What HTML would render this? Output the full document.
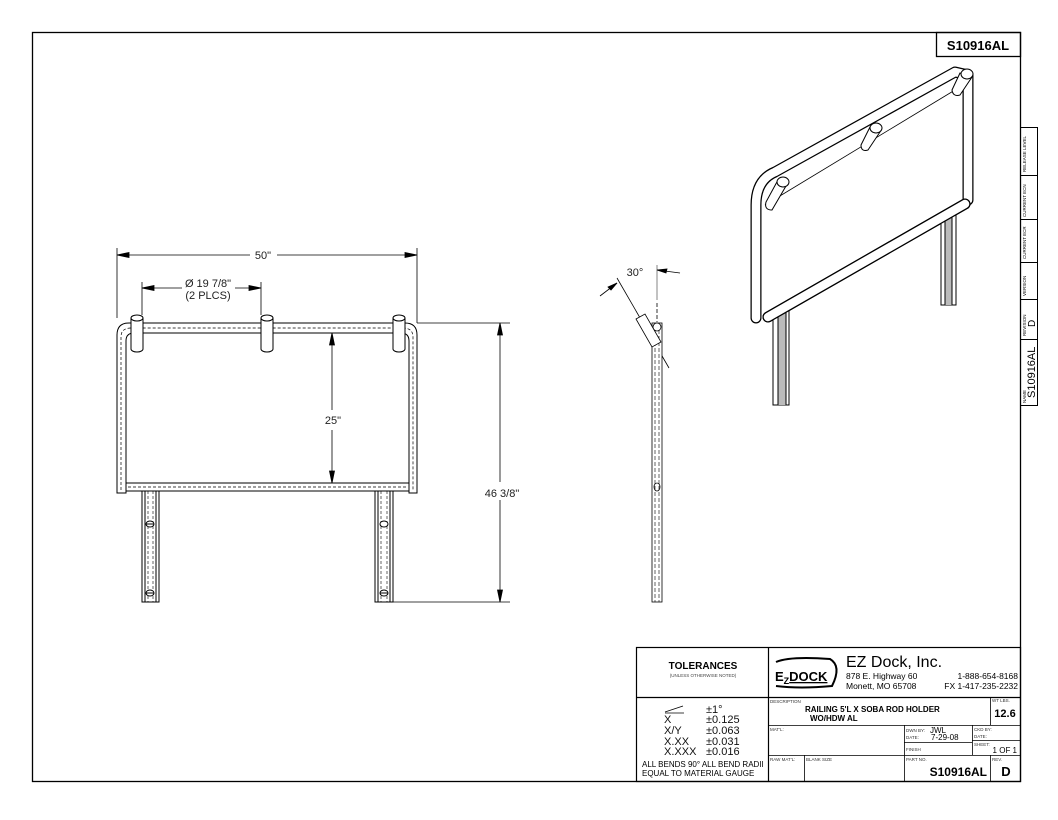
<!DOCTYPE html>
<html><head><meta charset="utf-8"><style>
html,body{margin:0;padding:0;background:#fff;}
svg{display:block;font-family:"Liberation Sans",sans-serif;}
</style></head><body>
<svg width="1058" height="820" viewBox="0 0 1058 820" xmlns="http://www.w3.org/2000/svg">
<rect x="0" y="0" width="1058" height="820" fill="#fff"/>
<rect x="32.5" y="32.5" width="988" height="749" fill="none" stroke="#000" stroke-width="1.3"/>
<!-- top right box -->
<rect x="936.5" y="32.5" width="84" height="24" fill="none" stroke="#000" stroke-width="1.3"/>
<text x="978" y="50" font-size="13" font-weight="bold" text-anchor="middle">S10916AL</text>
<!-- right tab -->
<g stroke="#000" stroke-width="1" fill="none">
<rect x="1020.5" y="127.5" width="17" height="278"/>
<line x1="1020" y1="175.5" x2="1037" y2="175.5"/>
<line x1="1020" y1="219.5" x2="1037" y2="219.5"/>
<line x1="1020" y1="262.5" x2="1037" y2="262.5"/>
<line x1="1020" y1="299.5" x2="1037" y2="299.5"/>
<line x1="1020" y1="339.5" x2="1037" y2="339.5"/>
</g>
<g font-size="4.5" fill="#000">
<text transform="translate(1026,172) rotate(-90)">RELEASE LEVEL</text>
<text transform="translate(1026,217) rotate(-90)">CURRENT ECN</text>
<text transform="translate(1026,259) rotate(-90)">CURRENT ECR</text>
<text transform="translate(1026,296) rotate(-90)">VERSION</text>
<text transform="translate(1026,336) rotate(-90)">REVISION</text>
<text transform="translate(1026,403) rotate(-90)">NAME</text>
</g>
<text transform="translate(1035,327) rotate(-90)" font-size="10">D</text>
<text transform="translate(1035,398) rotate(-90)" font-size="11">S10916AL</text>

<!-- FRONT VIEW -->
<g fill="none" stroke="#000" stroke-width="1">
<!-- outer frame -->
<path d="M117,493 V335 Q117,323 129,323 H405 Q417,323 417,335 V493 H409 V341 Q409,333 401,333 H134 Q126,333 126,341 V493 Z" fill="#fff"/>
<path d="M121,490 V337 Q121,328 131,328 H403 Q413,328 413,337 V490" stroke-dasharray="3,2" stroke-width="0.7"/>
<rect x="126" y="483" width="283" height="8" fill="#fff"/>
<line x1="128" y1="487" x2="407" y2="487" stroke-dasharray="3,2" stroke-width="0.7"/>
<!-- legs -->
<rect x="142" y="491" width="17" height="111" fill="#fff"/>
<line x1="145" y1="491" x2="145" y2="602"/><line x1="156" y1="491" x2="156" y2="602"/>
<line x1="148" y1="491" x2="148" y2="602" stroke-dasharray="3,2" stroke-width="0.6"/>
<line x1="153" y1="491" x2="153" y2="602" stroke-dasharray="3,2" stroke-width="0.6"/>
<ellipse cx="150" cy="524" rx="4" ry="3" fill="#fff"/><line x1="146" y1="524" x2="154" y2="524"/>
<ellipse cx="150" cy="593" rx="4" ry="3" fill="#fff"/><line x1="146" y1="593" x2="154" y2="593"/>
<rect x="375" y="491" width="18" height="111" fill="#fff"/>
<line x1="378" y1="491" x2="378" y2="602"/><line x1="390" y1="491" x2="390" y2="602"/>
<line x1="381" y1="491" x2="381" y2="602" stroke-dasharray="3,2" stroke-width="0.6"/>
<line x1="387" y1="491" x2="387" y2="602" stroke-dasharray="3,2" stroke-width="0.6"/>
<ellipse cx="384" cy="524" rx="4" ry="3" fill="#fff"/>
<ellipse cx="384" cy="593" rx="4" ry="3" fill="#fff"/><line x1="380" y1="593" x2="388" y2="593"/>
<!-- holders -->
<g fill="#fff">
<path d="M131,318 V349 A6,3 0 0 0 143,349 V318"/><ellipse cx="137" cy="318" rx="6" ry="3"/>
<path d="M261,318 V349 A6,3 0 0 0 273,349 V318"/><ellipse cx="267" cy="318" rx="6" ry="3"/>
<path d="M393,318 V349 A6,3 0 0 0 405,349 V318"/><ellipse cx="399" cy="318" rx="6" ry="3"/>
</g>
</g>
<!-- front dims -->
<g stroke="#000" stroke-width="0.8" fill="#000">
<line x1="117" y1="248" x2="117" y2="318"/><line x1="417" y1="248" x2="417" y2="323"/>
<line x1="117" y1="255" x2="250" y2="255"/><line x1="277" y1="255" x2="417" y2="255"/>
<path d="M117,255 l12,-2.5 v5 z"/><path d="M417,255 l-12,-2.5 v5 z"/>
<line x1="142" y1="282" x2="142" y2="315"/><line x1="261" y1="282" x2="261" y2="315"/>
<line x1="142" y1="288" x2="182" y2="288"/><line x1="235" y1="288" x2="261" y2="288"/>
<path d="M142,288 l12,-2.5 v5 z"/><path d="M261,288 l-12,-2.5 v5 z"/>
<line x1="332" y1="333" x2="332" y2="410"/><line x1="332" y1="430" x2="332" y2="483"/>
<path d="M332,333 l-2.5,12 h5 z"/><path d="M332,483 l-2.5,-12 h5 z"/>
<line x1="417" y1="323" x2="510" y2="323"/><line x1="393" y1="602" x2="510" y2="602"/>
<line x1="500" y1="323" x2="500" y2="482"/><line x1="500" y1="500" x2="500" y2="602"/>
<path d="M500,323 l-2.5,12 h5 z"/><path d="M500,602 l-2.5,-12 h5 z"/>
</g>
<g font-size="11" fill="#222" text-anchor="middle">
<text x="263" y="259">50"</text>
<text x="208" y="287">Ø 19 7/8"</text>
<text x="208" y="299">(2 PLCS)</text>
<text x="333" y="424">25"</text>
<text x="502" y="497">46 3/8"</text>
<text x="635" y="276">30°</text>
</g>

<!-- SIDE VIEW -->
<g stroke="#000" stroke-width="0.8" fill="none">
<line x1="657" y1="265" x2="657" y2="300" stroke="#999" stroke-width="1.2"/>
<line x1="657" y1="303" x2="657" y2="322" stroke-dasharray="4,2"/>
<line x1="657" y1="270" x2="680" y2="273"/><path d="M657,270 l10,-1 l-1,4 z" fill="#000"/>
<line x1="617" y1="278" x2="669" y2="368"/>
<line x1="600" y1="296" x2="617" y2="283"/><path d="M617,283 l-9,4 l3,3 z" fill="#000"/>
<rect x="652" y="323" width="10" height="279" fill="#fff"/>
<line x1="655" y1="330" x2="655" y2="602" stroke-dasharray="4,2" stroke-width="0.6"/>
<line x1="659" y1="330" x2="659" y2="602" stroke-dasharray="4,2" stroke-width="0.6"/>
<circle cx="657" cy="327" r="4" fill="#fff"/>
<ellipse cx="657" cy="487" rx="3" ry="4"/>
<path d="M636,319 L645,314 L661,342 L652,347 Z" fill="#fff"/>
</g>

<!-- ISO VIEW -->
<g fill="none" stroke="#000" stroke-width="1">
<path d="M756,318 V205 Q756,180 775,172 L955,72 L968,75 V200" stroke="#000" stroke-width="11" stroke-linecap="round" stroke-linejoin="round"/>
<path d="M756,318 V205 Q756,180 775,172 L955,72 L968,75 V200" stroke="#fff" stroke-width="8.5" stroke-linecap="round" stroke-linejoin="round"/>
<line x1="765" y1="205" x2="955" y2="90" stroke-width="0.8"/>
<path d="M768,317 L965,204" stroke="#000" stroke-width="11" stroke-linecap="round"/>
<path d="M768,317 L965,204" stroke="#fff" stroke-width="8.5" stroke-linecap="round"/>
<!-- legs -->
<rect x="773" y="310" width="16" height="95" fill="#fff"/>
<rect x="778" y="310" width="8" height="95" fill="#bbb" stroke="none"/>
<line x1="778" y1="310" x2="778" y2="405"/><line x1="786" y1="310" x2="786" y2="405"/>
<rect x="941" y="212" width="15" height="93" fill="#fff"/>
<rect x="945" y="212" width="7" height="93" fill="#bbb" stroke="none"/>
<line x1="945" y1="212" x2="945" y2="305"/><line x1="952" y1="212" x2="952" y2="305"/>
<path d="M768,317 L965,204" stroke="#000" stroke-width="11" stroke-linecap="round"/>
<path d="M768,317 L965,204" stroke="#fff" stroke-width="8.5" stroke-linecap="round"/>
<!-- holders -->
<g fill="#fff">
<path d="M778,180 L766,202 Q764,210 772,210 L786,186 Z"/><ellipse cx="783" cy="182" rx="6" ry="5"/>
<path d="M870,127 L861,145 Q861,152 868,150 L880,132 Z"/><ellipse cx="876" cy="128" rx="6" ry="5"/>
<path d="M960,73 L952,90 Q953,97 960,95 L972,77 Z"/><ellipse cx="967" cy="74" rx="6" ry="5"/>
</g>
</g>

<!-- TITLE BLOCK -->
<g stroke="#000" stroke-width="1.2" fill="none">
<rect x="636.5" y="647.5" width="384" height="134"/>
<line x1="768.5" y1="647" x2="768.5" y2="781"/>
<line x1="636" y1="697.5" x2="1020" y2="697.5"/>
<g stroke-width="0.8">
<line x1="768" y1="725.5" x2="1020" y2="725.5"/>
<line x1="990.5" y1="697" x2="990.5" y2="725"/>
<line x1="768" y1="755.5" x2="1020" y2="755.5"/>
<line x1="904.5" y1="725" x2="904.5" y2="781"/>
<line x1="972.5" y1="725" x2="972.5" y2="755"/>
<line x1="904" y1="742.5" x2="972" y2="742.5"/>
<line x1="972" y1="740.5" x2="1020" y2="740.5"/>
<line x1="804.5" y1="755" x2="804.5" y2="781"/>
<line x1="990.5" y1="755" x2="990.5" y2="781"/>
</g>
</g>
<text x="703" y="669" font-size="10" font-weight="bold" text-anchor="middle">TOLERANCES</text>
<text x="703" y="677" font-size="4.5" text-anchor="middle" fill="#444">(UNLESS OTHERWISE NOTED)</text>
<path d="M665,712 L683,706 M665,713 L684,713" stroke="#000" stroke-width="0.8"/>
<g font-size="11" fill="#111">
<text x="706" y="713">±1°</text>
<text x="664" y="723">X</text><text x="706" y="723">±0.125</text>
<text x="664" y="734">X/Y</text><text x="706" y="734">±0.063</text>
<text x="664" y="745">X.XX</text><text x="706" y="745">±0.031</text>
<text x="664" y="755">X.XXX</text><text x="706" y="755">±0.016</text>
</g>
<text x="642" y="767" font-size="8">ALL BENDS 90°   ALL BEND RADII</text>
<text x="642" y="776" font-size="8">EQUAL TO MATERIAL GAUGE</text>
<!-- logo -->
<path d="M776,662 Q790,656 830,659 Q842,666 832,686 Q800,689 776,686" fill="none" stroke="#000" stroke-width="2"/>
<text x="775" y="681" font-size="13" font-weight="bold">E<tspan font-size="9" dy="3">Z</tspan><tspan dy="-3" text-decoration="underline">DOCK</tspan></text>
<text x="846" y="667" font-size="16">EZ Dock, Inc.</text>
<text x="846" y="679" font-size="8.5">878 E. Highway 60</text>
<text x="846" y="689" font-size="8.5">Monett, MO 65708</text>
<text x="1018" y="679" font-size="8.5" text-anchor="end">1-888-654-8168</text>
<text x="1018" y="689" font-size="8.5" text-anchor="end">FX  1-417-235-2232</text>
<g font-size="4.5" fill="#333">
<text x="770" y="703">DESCRIPTION</text>
<text x="992" y="702">WT   LBS.</text>
<text x="770" y="731">MAT'L:</text>
<text x="906" y="732">DWN BY:</text><text x="906" y="739">DATE:</text>
<text x="974" y="731">CKD BY:</text><text x="974" y="738">DATE:</text>
<text x="906" y="751">FINISH</text>
<text x="974" y="746">SHEET:</text>
<text x="770" y="761">RAW MAT'L:</text><text x="806" y="761">BLANK SIZE</text>
<text x="906" y="761">PART NO.</text><text x="992" y="761">REV.</text>
</g>
<text x="805" y="712" font-size="8" font-weight="bold">RAILING  5'L X SOBA ROD HOLDER</text>
<text x="810" y="721" font-size="8" font-weight="bold">WO/HDW AL</text>
<text x="1005" y="717" font-size="11" font-weight="bold" text-anchor="middle">12.6</text>
<text x="930" y="733" font-size="8">JWL</text>
<text x="931" y="740" font-size="8">7-29-08</text>
<text x="1017" y="753" font-size="8" text-anchor="end">1 OF 1</text>
<text x="987" y="776" font-size="12" font-weight="bold" text-anchor="end">S10916AL</text>
<text x="1006" y="776" font-size="13" font-weight="bold" text-anchor="middle">D</text>
</svg>
</body></html>
